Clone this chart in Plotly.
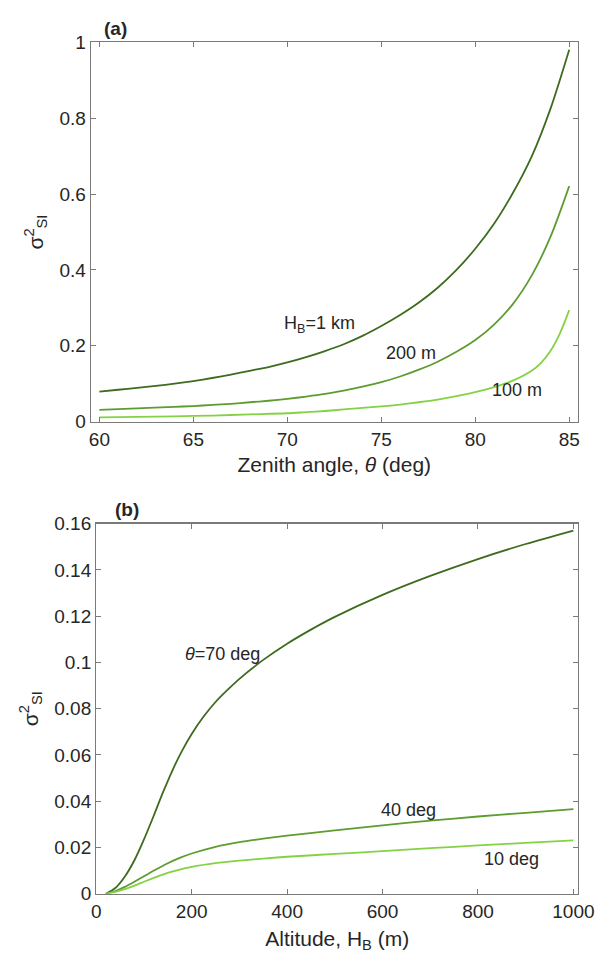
import plotly.graph_objects as go

# ---------- Panel (a): sigma^2_SI vs zenith angle ----------
theta_1km = [60, 61, 62, 63, 64, 65, 66, 67, 68, 69, 70, 71, 72, 73, 74, 75, 76, 77, 78, 79, 80, 81, 82, 83, 84, 85]
sig_1km   = [0.079, 0.084, 0.089, 0.094, 0.100, 0.107, 0.115, 0.124, 0.134, 0.144, 0.156, 0.170, 0.186, 0.204,
             0.226, 0.252, 0.281, 0.314, 0.353, 0.400, 0.456, 0.522, 0.603, 0.699, 0.825, 0.981]

theta_200m = [60, 62, 64, 65, 66, 67, 68, 69, 70, 71, 72, 73, 74, 75, 76, 77, 78, 79, 80, 81, 82, 83, 84, 85]
sig_200m   = [0.031, 0.035, 0.039, 0.041, 0.044, 0.047, 0.051, 0.055, 0.060, 0.066, 0.073, 0.082, 0.092, 0.104,
              0.119, 0.137, 0.158, 0.184, 0.215, 0.256, 0.310, 0.385, 0.487, 0.621]

theta_100m = [60, 62, 64, 66, 68, 70, 71, 72, 73, 74, 75, 76, 77, 78, 79, 80, 81, 82, 83, 83.5, 84, 84.5, 85]
sig_100m   = [0.011, 0.0125, 0.014, 0.016, 0.019, 0.022, 0.025, 0.028, 0.032, 0.036, 0.040, 0.045, 0.051, 0.058,
              0.067, 0.078, 0.091, 0.108, 0.134, 0.155, 0.186, 0.232, 0.294]

# ---------- Panel (b): sigma^2_SI vs altitude ----------
H_70 = [20, 40, 60, 80, 100, 120, 140, 160, 180, 200, 225, 250, 275, 300, 350, 400, 450, 500, 600, 700, 800, 900, 1000]
sig_70 = [0.0, 0.0025, 0.0075, 0.0145, 0.0235, 0.0335, 0.0439, 0.0535, 0.0619, 0.0691, 0.0766, 0.0829, 0.0881,
          0.0929, 0.1011, 0.1081, 0.1142, 0.1197, 0.1292, 0.1374, 0.1447, 0.1512, 0.1570]

H_40 = [20, 40, 60, 80, 100, 125, 150, 175, 200, 250, 300, 350, 400, 500, 600, 700, 800, 900, 1000]
sig_40 = [0.0, 0.0012, 0.0030, 0.0052, 0.0076, 0.0105, 0.0132, 0.0155, 0.0174, 0.0203, 0.0223, 0.0238, 0.0251,
          0.0274, 0.0296, 0.0316, 0.0334, 0.0350, 0.0366]

H_10 = [20, 40, 60, 80, 100, 125, 150, 175, 200, 250, 300, 350, 400, 500, 600, 700, 800, 900, 1000]
sig_10 = [0.0, 0.0008, 0.0020, 0.0035, 0.0052, 0.0072, 0.0090, 0.0104, 0.0116, 0.0132, 0.0143, 0.0152, 0.0160,
          0.0172, 0.0184, 0.0197, 0.0209, 0.0220, 0.0231]

# ticks
xa_ticks = [60, 65, 70, 75, 80, 85]
ya_ticks = [0, 0.2, 0.4, 0.6, 0.8, 1]
ya_labels = ["0", "0.2", "0.4", "0.6", "0.8", "1"]
xb_ticks = [0, 200, 400, 600, 800, 1000]
yb_ticks = [0, 0.02, 0.04, 0.06, 0.08, 0.1, 0.12, 0.14, 0.16]
yb_labels = ["0", "0.02", "0.04", "0.06", "0.08", "0.1", "0.12", "0.14", "0.16"]

C_DARK = "#3e6c1e"
C_MID = "#5e9c2f"
C_LIGHT = "#84d244"
FONT = "Liberation Sans, Arial, Helvetica, sans-serif"
TXT = "#262626"
AX = "#7a7a7a"

W, Hh = 613, 971

fig = go.Figure()
lw = 1.8
def line(color):
    return dict(color=color, width=lw, shape="spline", smoothing=0.8)

fig.add_trace(go.Scatter(x=theta_1km, y=sig_1km, mode="lines", line=line(C_DARK), xaxis="x", yaxis="y"))
fig.add_trace(go.Scatter(x=theta_200m, y=sig_200m, mode="lines", line=line(C_MID), xaxis="x", yaxis="y"))
fig.add_trace(go.Scatter(x=theta_100m, y=sig_100m, mode="lines", line=line(C_LIGHT), xaxis="x", yaxis="y"))

fig.add_trace(go.Scatter(x=H_70, y=sig_70, mode="lines", line=line(C_DARK), xaxis="x2", yaxis="y2"))
fig.add_trace(go.Scatter(x=H_40, y=sig_40, mode="lines", line=line(C_MID), xaxis="x2", yaxis="y2"))
fig.add_trace(go.Scatter(x=H_10, y=sig_10, mode="lines", line=line(C_LIGHT), xaxis="x2", yaxis="y2"))

def ax_common():
    return dict(showline=True, linecolor=AX, linewidth=1.2, mirror="ticks",
                ticks="inside", ticklen=5, tickcolor=AX, tickwidth=1,
                showgrid=False, zeroline=False,
                tickfont=dict(family=FONT, size=19, color=TXT))

title_font = dict(family=FONT, size=21, color=TXT)
xa = ax_common(); xa.update(domain=[89/W, 593/W], range=[59.55, 85.45], tickvals=xa_ticks, anchor="y",
    title=dict(text="Zenith angle, <i>θ</i> (deg)", font=title_font, standoff=8))
ya = ax_common(); ya.update(domain=[1-420.7/Hh, 1-33.2/Hh], range=[0, 1], tickvals=ya_ticks, ticktext=ya_labels, anchor="x",
    title=dict(text="σ<sup>2</sup><sub>SI</sub>", font=title_font, standoff=10))
xb = ax_common(); xb.update(domain=[94.5/W, 593.5/W], range=[0, 1010], tickvals=xb_ticks, anchor="y2",
    title=dict(text="Altitude, H<sub>B</sub> (m)", font=title_font, standoff=10))
yb = ax_common(); yb.update(domain=[1-903.3/Hh, 1-525/Hh], range=[0, 0.16], tickvals=yb_ticks, ticktext=yb_labels, anchor="x2",
    title=dict(text="σ<sup>2</sup><sub>SI</sub>", font=title_font, standoff=10))

ann_font = dict(family=FONT, size=18, color=TXT)
annotations = [
    dict(text="H<sub>B</sub>=1 km", x=71.7, y=0.255, xref="x", yref="y", showarrow=False, font=ann_font),
    dict(text="200 m", x=76.6, y=0.18, xref="x", yref="y", showarrow=False, font=ann_font),
    dict(text="100 m", x=82.2, y=0.083, xref="x", yref="y", showarrow=False, font=ann_font),
    dict(text="<i>θ</i>=70 deg", x=264, y=0.1037, xref="x2", yref="y2", showarrow=False, font=ann_font),
    dict(text="40 deg", x=655, y=0.0361, xref="x2", yref="y2", showarrow=False, font=ann_font),
    dict(text="10 deg", x=871, y=0.0152, xref="x2", yref="y2", showarrow=False, font=ann_font),
    dict(text="<b>(a)</b>", x=100/W, y=1-32/Hh, xref="paper", yref="paper", xanchor="left", yanchor="bottom",
         showarrow=False, font=dict(family=FONT, size=19, color=TXT)),
    dict(text="<b>(b)</b>", x=112/W, y=1-523/Hh, xref="paper", yref="paper", xanchor="left", yanchor="bottom",
         showarrow=False, font=dict(family=FONT, size=19, color=TXT)),
]

fig.update_layout(width=W, height=Hh, margin=dict(l=0, r=0, t=0, b=0),
                  paper_bgcolor="white", plot_bgcolor="white", showlegend=False,
                  xaxis=xa, yaxis=ya, xaxis2=xb, yaxis2=yb, annotations=annotations)

fig.write_html("out.html", config={"displayModeBar": False, "staticPlot": True},
               post_script="document.body.style.margin='0';document.body.style.overflow='hidden';")
